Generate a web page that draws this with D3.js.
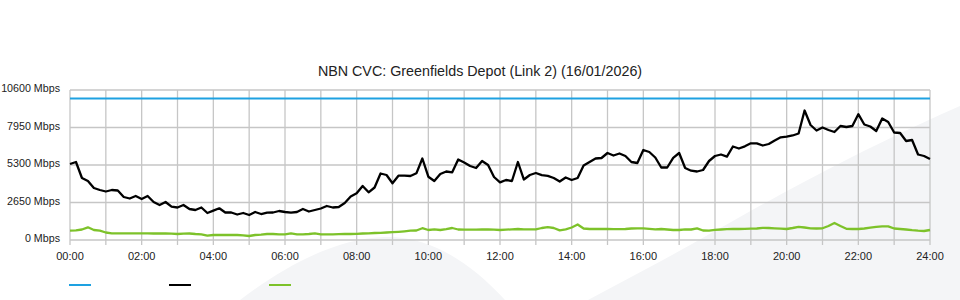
<!DOCTYPE html>
<html>
<head>
<meta charset="utf-8">
<script src="https://cdn.jsdelivr.net/npm/d3@7"></script>
<style>
  body { margin: 0; background: #fff; }
  svg { display: block; font-family: "Liberation Sans", Arial, sans-serif; }
</style>
</head>
<body>
<div id="chart"></div>
<script>
// chart values (10 minute samples, 00:00 -> 24:00)
const title = "NBN CVC: Greenfields Depot (Link 2) (16/01/2026)";
const capacityMbps = 10000;
const yTicks = [0, 2650, 5300, 7950, 10600];
const xTickHours = [0, 2, 4, 6, 8, 10, 12, 14, 16, 18, 20, 22, 24];
const xTickLabels = ["00:00", "02:00", "04:00", "06:00", "08:00", "10:00", "12:00",
                     "14:00", "16:00", "18:00", "20:00", "22:00", "24:00"];

const downloadMbps = [
  5370, 5512, 4381, 4169, 3675, 3533, 3427, 3533, 3498, 3039,
  2933, 3109, 2897, 3109, 2685, 2473, 2685, 2353, 2297, 2473,
  2191, 2120, 2297, 1908, 2071, 2240, 1943, 1943, 1802, 1908,
  1767, 1979, 1837, 1929, 1943, 2049, 1979, 1929, 1979, 2191,
  2014, 2120, 2226, 2403, 2297, 2332, 2615, 3074, 3300, 3816,
  3371, 3710, 4700, 4593, 4007, 4544, 4544, 4523, 4713, 5759,
  4473, 4169, 4664, 4841, 4784, 5689, 5477, 5229, 5088, 5583,
  5300, 4452, 4077, 4240, 4169, 5512, 4275, 4593, 4735, 4579,
  4537, 4381, 4134, 4417, 4240, 4381, 5265, 5512, 5759, 5795,
  6148, 5971, 6113, 5936, 5512, 5441, 6360, 6219, 5830, 5123,
  5123, 5809, 6148, 5088, 4897, 4841, 4947, 5583, 5936, 6042,
  5887, 6607, 6466, 6621, 6833, 6833, 6678, 6784, 7031, 7258,
  7300, 7385, 7526, 9151, 8127, 7738, 7950, 7773, 7632, 8056,
  7985, 8056, 8890, 8162, 8021, 7703, 8586, 8339, 7597, 7561,
  6996, 7067, 6042, 5936, 5724
];

const uploadMbps = [
  657, 685, 742, 897, 707, 657, 530, 473, 473, 473,
  473, 473, 473, 473, 459, 459, 459, 445, 424, 445,
  459, 424, 403, 304, 353, 353, 353, 353, 353, 332,
  283, 353, 375, 424, 424, 403, 403, 473, 403, 403,
  424, 473, 403, 403, 403, 410, 424, 424, 438, 459,
  473, 495, 509, 530, 551, 579, 615, 657, 671, 834,
  707, 756, 707, 763, 848, 742, 728, 728, 728, 742,
  756, 728, 707, 728, 756, 777, 756, 756, 756, 848,
  905, 848, 685, 756, 883, 1095, 813, 777, 777, 777,
  777, 763, 763, 777, 813, 827, 827, 791, 756, 777,
  742, 707, 707, 756, 742, 827, 671, 657, 721, 742,
  763, 777, 777, 791, 799, 813, 862, 848, 827, 799,
  777, 848, 933, 883, 827, 813, 827, 989, 1201, 989,
  791, 777, 777, 813, 869, 933, 968, 968, 813, 777,
  742, 693, 657, 636, 707
];

const legendColors = ["#1ea1e1", "#000000", "#7dc22a"];

const W = 960, H = 300;
const margin = { top: 90, right: 30, bottom: 60, left: 70 };

const svg = d3.select("#chart").append("svg")
  .attr("width", W)
  .attr("height", H);

// faint background watermark shapes
svg.append("path")
  .attr("d", "M240,300 C290,262 340,238 385,237 C430,236 470,262 505,300 Z")
  .attr("fill", "#f4f5f7");
svg.append("path")
  .attr("d", "M588,300 L663,260 C700,240 760,205 802,183 C860,152 910,128 960,106 L960,300 Z")
  .attr("fill", "#f4f5f7");

const x = d3.scaleLinear().domain([0, 24]).range([margin.left, W - margin.right]);
const y = d3.scaleLinear().domain([0, 10600]).range([H - margin.bottom, margin.top]);

// grid
const grid = svg.append("g").attr("stroke", "#c6c6c6").attr("stroke-width", 1.3);
grid.selectAll(".hgrid")
  .data(yTicks)
  .enter().append("line")
  .attr("x1", x(0)).attr("x2", x(24))
  .attr("y1", d => y(d)).attr("y2", d => y(d));
grid.selectAll(".vgrid")
  .data(d3.range(0, 25))
  .enter().append("line")
  .attr("x1", d => x(d)).attr("x2", d => x(d))
  .attr("y1", y(10600)).attr("y2", y(0) + 5);

// y labels
svg.append("g")
  .selectAll("text")
  .data(yTicks)
  .enter().append("text")
  .attr("x", margin.left - 10)
  .attr("y", d => y(d))
  .attr("dy", "0.22em")
  .attr("text-anchor", "end")
  .attr("font-size", 10.7)
  .attr("fill", "#222")
  .text(d => d + " Mbps");

// x labels
svg.append("g")
  .selectAll("text")
  .data(xTickHours)
  .enter().append("text")
  .attr("x", d => x(d))
  .attr("y", y(0) + 20)
  .attr("text-anchor", "middle")
  .attr("font-size", 11)
  .attr("fill", "#222")
  .text((d, i) => xTickLabels[i]);

// title
svg.append("text")
  .attr("x", W / 2)
  .attr("y", 76)
  .attr("text-anchor", "middle")
  .attr("font-size", 14.3)
  .attr("fill", "#222")
  .text(title);

// series
const hourOf = i => i / 6;
const line = d3.line()
  .x((d, i) => x(hourOf(i)))
  .y(d => y(d));

svg.append("line")
  .attr("x1", x(0)).attr("x2", x(24))
  .attr("y1", y(capacityMbps)).attr("y2", y(capacityMbps))
  .attr("stroke", legendColors[0])
  .attr("stroke-width", 2);

svg.append("path")
  .datum(uploadMbps)
  .attr("d", line)
  .attr("fill", "none")
  .attr("stroke", legendColors[2])
  .attr("stroke-width", 2.3)
  .attr("stroke-linejoin", "round");

svg.append("path")
  .datum(downloadMbps)
  .attr("d", line)
  .attr("fill", "none")
  .attr("stroke", legendColors[1])
  .attr("stroke-width", 2.3)
  .attr("stroke-linejoin", "round");

// legend (swatches only)
svg.append("g")
  .selectAll("line")
  .data(legendColors)
  .enter().append("line")
  .attr("x1", (d, i) => 69 + i * 100)
  .attr("x2", (d, i) => 91 + i * 100)
  .attr("y1", 285).attr("y2", 285)
  .attr("stroke", d => d)
  .attr("stroke-width", 2);
</script>
</body>
</html>
